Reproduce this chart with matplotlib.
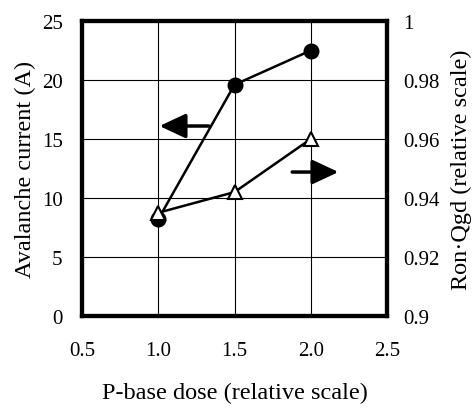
import matplotlib.pyplot as plt

plt.rcParams['font.family'] = ['Liberation Serif', 'DejaVu Serif']

dose = [1.0, 1.5, 2.0]
avalanche = [8.2, 19.6, 22.5]
ron_qgd = [0.935, 0.942, 0.960]

xticks = [0.5, 1.0, 1.5, 2.0, 2.5]
xlabels = ['0.5', '1.0', '1.5', '2.0', '2.5']
lticks = [0, 5, 10, 15, 20, 25]
rticks = [0.9, 0.92, 0.94, 0.96, 0.98, 1.0]
rlabels = ['0.9', '0.92', '0.94', '0.96', '0.98', '1']

fig = plt.figure(figsize=(4.75, 4.1), dpi=100)
ax = fig.add_axes([82/475, 1-317/410, (387-82)/475, (317-22)/410])
ax2 = ax.twinx()

ax.set_xlim(0.5, 2.5)
ax.set_ylim(0, 25)
ax2.set_ylim(0.9, 1.0)

ax.set_xticks(xticks)
ax.set_xticklabels(xlabels)
ax.set_yticks(lticks)
ax2.set_yticks(rticks)
ax2.set_yticklabels(rlabels)

ax.grid(True, color='k', linewidth=0.8)
ax.tick_params(axis='x', length=0, labelsize=15, pad=18)
ax.tick_params(axis='y', length=0, labelsize=15, pad=14)
ax2.tick_params(length=0, labelsize=15, pad=12)

for a in (ax, ax2):
    for s in a.spines.values():
        s.set_linewidth(3)

ax.plot(dose, avalanche, 'k-', marker='o', markersize=10.5, linewidth=1.8)
ax2.plot(dose, ron_qgd, 'k-', marker='^', markersize=10, markerfacecolor='white',
         markeredgewidth=1.5, linewidth=1.8)

# direction arrows
arrow = dict(arrowstyle='-|>,head_length=1.6,head_width=0.75', color='k', lw=2.5)
ax.annotate('', xy=(0.99, 16.1), xytext=(1.35, 16.1), arrowprops=arrow)
ax.annotate('', xy=(2.2, 12.2), xytext=(1.86, 12.2), arrowprops=arrow)

ax.set_xlabel('P-base dose (relative scale)', fontsize=17.5, labelpad=16)
ax.set_ylabel('Avalanche current (A)', fontsize=17.5, labelpad=4)
ax2.set_ylabel('Ron·Qgd (relative scale)', fontsize=17.5, labelpad=8)

fig.savefig('out.png', dpi=100)
